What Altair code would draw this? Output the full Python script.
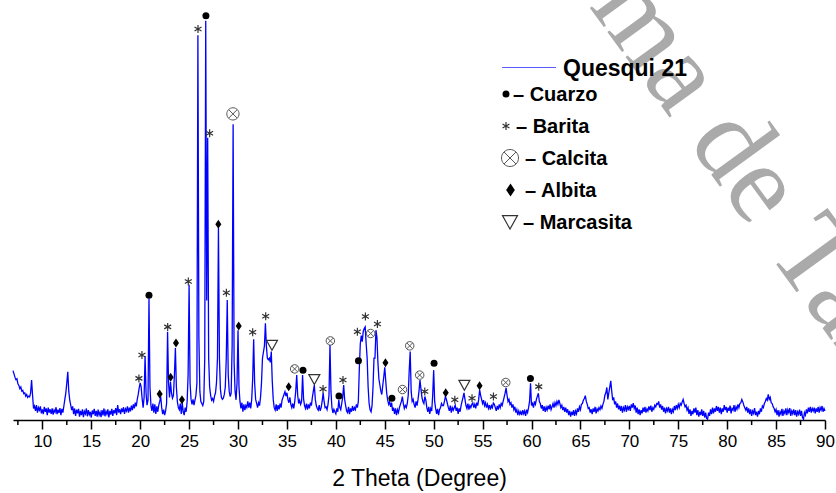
import altair as alt
import pandas as pd

# 2-theta grid of the diffractogram (degrees)
THETA_START = 7.0
THETA_STEP = 0.1

# Intensity (a.u.), one row per degree: values at d.0, d.1, ..., d.9
counts_07_19 = [
    120, 112, 104, 98, 100, 88, 84, 76, 80, 70,    # 7
    72, 64, 66, 58, 62, 55, 58, 56, 66, 97,        # 8
    60, 28, 34, 22, 36, 18, 30, 24, 33, 16,        # 9
    26, 14, 32, 20, 28, 12, 30, 18, 26, 15,        # 10
    28, 13, 24, 19, 31, 14, 25, 17, 29, 12,        # 11
    27, 18, 34, 50, 66, 90, 117, 70, 48, 36,       # 12
    24, 33, 14, 28, 10, 25, 16, 27, 8, 22,         # 13
    12, 26, 7, 21, 15, 28, 9, 24, 13, 20,          # 14
    6, 23, 14, 27, 10, 22, 8, 25, 12, 19,          # 15
    7, 24, 11, 28, 9, 21, 14, 26, 6, 22,           # 16
    13, 27, 10, 24, 16, 29, 12, 36, 18, 26,        # 17
    14, 28, 19, 31, 15, 27, 22, 33, 18, 30,        # 18
    21, 35, 24, 38, 28, 42, 33, 50, 62, 78,        # 19
]
counts_20_34 = [
    90, 80, 52, 30, 55, 155, 65, 36, 48, 295,      # 20
    80, 35, 22, 40, 18, 38, 15, 33, 20, 36,        # 21
    45, 57, 30, 14, 25, 12, 22, 40, 214, 90,       # 22
    55, 93, 65, 53, 60, 110, 175, 80, 45, 30,      # 23
    25, 40, 15, 41, 20, 12, 30, 20, 45, 110,       # 24
    328, 90, 50, 38, 50, 36, 48, 60, 90, 934,      # 25
    200, 70, 45, 40, 35, 45, 150, 969, 290, 685,   # 26
    150, 80, 60, 48, 52, 45, 58, 66, 90, 150,      # 27
    466, 150, 75, 55, 50, 53, 62, 80, 150, 291,    # 28
    110, 70, 57, 65, 180, 718, 140, 70, 49, 90,    # 29
    218, 80, 45, 28, 42, 20, 38, 24, 35, 30,       # 30
    45, 30, 42, 28, 50, 100, 196, 90, 50, 41,      # 31
    30, 42, 35, 55, 90, 150, 165, 180, 235, 180,   # 32
    150, 146, 150, 140, 166, 95, 50, 30, 24, 38,   # 33
    22, 36, 26, 40, 30, 48, 55, 62, 69, 58,        # 34
]
counts_35_49 = [
    66, 50, 42, 55, 38, 30, 40, 28, 45, 70,        # 35
    109, 60, 40, 48, 38, 45, 109, 52, 35, 28,      # 36
    40, 25, 38, 28, 42, 35, 55, 70, 85, 50,        # 37
    35, 28, 24, 36, 22, 30, 45, 66, 45, 30,        # 38
    32, 25, 38, 60, 182, 70, 30, 17, 26, 20,       # 39
    15, 28, 20, 49, 30, 25, 40, 55, 85, 50,        # 40
    35, 22, 18, 32, 14, 28, 20, 34, 22, 30,        # 41
    25, 38, 30, 45, 125, 185, 205, 190, 215, 222,  # 42
    226, 185, 150, 80, 40, 25, 20, 35, 80, 150,    # 43
    150, 218, 200, 140, 100, 85, 70, 62, 85, 105,  # 44
    128, 95, 65, 48, 38, 44, 32, 42, 22, 30,       # 45
    15, 28, 12, 25, 18, 30, 38, 45, 57, 40,        # 46
    28, 35, 30, 40, 60, 120, 166, 70, 45, 50,      # 47
    38, 30, 45, 35, 50, 70, 97, 75, 55, 45,        # 48
    40, 57, 48, 30, 20, 32, 15, 28, 22, 60,        # 49
]
counts_50_64 = [
    121, 45, 28, 15, 27, 12, 25, 30, 40, 35,       # 50
    35, 45, 57, 50, 40, 30, 22, 35, 18, 30,        # 51
    24, 30, 36, 22, 30, 15, 28, 20, 35, 45,        # 52
    55, 66, 50, 35, 28, 40, 25, 35, 30, 38,        # 53
    41, 30, 38, 28, 42, 35, 50, 73, 60, 50,        # 54
    40, 48, 35, 42, 30, 38, 28, 36, 25, 35,        # 55
    30, 41, 38, 30, 22, 34, 25, 38, 30, 40,        # 56
    35, 45, 55, 65, 78, 60, 45, 50, 38, 42,        # 57
    30, 38, 25, 32, 18, 25, 12, 22, 14, 20,        # 58
    12, 24, 15, 22, 10, 25, 18, 30, 45, 89,        # 59
    35, 40, 30, 45, 38, 50, 58, 65, 45, 40,        # 60
    28, 36, 22, 33, 20, 31, 24, 35, 26, 38,        # 61
    25, 32, 40, 30, 42, 35, 45, 38, 49, 40,        # 62
    30, 36, 24, 32, 20, 30, 18, 26, 12, 22,        # 63
    8, 20, 12, 24, 10, 22, 15, 28, 20, 32,         # 64
]
counts_65_90 = [
    25, 38, 40, 48, 52, 59, 45, 38, 28, 30,        # 65
    18, 26, 14, 28, 20, 32, 16, 27, 22, 30,        # 66
    25, 34, 28, 38, 45, 60, 66, 79, 50, 65,        # 67
    80, 95, 70, 48, 55, 38, 45, 30, 40, 26,        # 68
    35, 22, 34, 18, 30, 24, 36, 20, 32, 26,        # 69
    34, 22, 38, 30, 41, 28, 35, 18, 30, 14,        # 70
    26, 12, 24, 16, 30, 20, 32, 18, 27, 22,        # 71
    33, 24, 35, 20, 30, 26, 36, 32, 40, 38,        # 72
    45, 30, 38, 25, 34, 20, 30, 16, 28, 22,        # 73
    32, 18, 28, 14, 26, 20, 34, 24, 36, 28,        # 74
    38, 30, 40, 36, 44, 50, 40, 32, 36, 24,        # 75
    30, 15, 26, 10, 22, 14, 28, 18, 30, 12,        # 76
    24, 8, 20, 12, 26, 10, 22, 6, 18, 4,           # 77
    2, 18, 10, 26, 14, 30, 16, 28, 20, 34,         # 78
    22, 32, 18, 30, 14, 28, 20, 36, 24, 32,        # 79
    18, 30, 22, 35, 16, 28, 24, 36, 20, 32,        # 80
    26, 38, 30, 40, 42, 50, 44, 36, 30, 24,        # 81
    32, 18, 28, 14, 26, 10, 22, 16, 29, 12,        # 82
    20, 8, 22, 14, 28, 20, 34, 30, 40, 45,         # 83
    52, 48, 62, 50, 55, 42, 40, 32, 28, 20,        # 84
    26, 12, 24, 8, 20, 14, 27, 10, 22, 16,         # 85
    28, 12, 25, 18, 29, 10, 22, 15, 26, 12,        # 86
    24, 8, 20, 14, 25, 10, 22, 6, 2, 18,           # 87
    12, 26, 16, 30, 20, 32, 18, 28, 22, 30,        # 88
    16, 28, 20, 32, 18, 30, 24, 34, 20, 28,        # 89
    22,                                            # 90
]

# Phase identification: 2-theta of each label and the intensity level it sits at
cuarzo_theta = [20.90, 26.72, 36.64, 40.32, 42.31, 45.73, 50.04, 59.89]
cuarzo_level = [303, 981, 121, 58, 144, 53, 138, 101]

barita_theta = [19.87, 20.18, 22.81, 24.92, 25.91, 27.10, 28.81, 31.50, 32.83, 38.69,
                40.73, 42.20, 43.02, 44.25, 49.09, 52.16, 53.92, 56.11, 60.74]
barita_level = [101, 158, 226, 336, 949, 696, 309, 213, 252, 75,
                97, 214, 251, 233, 69, 49, 53, 57, 81]

calcita_theta = [29.48, 35.79, 39.44, 43.56, 46.81, 47.55, 48.57, 57.37]
calcita_level = [743, 124, 192, 210, 74, 180, 109, 91]

albita_theta = [21.99, 23.11, 23.66, 24.27, 27.99, 30.07, 35.18, 45.07, 51.23, 54.69]
albita_level = [63, 104, 187, 49, 475, 228, 81, 139, 66, 83]

marcasita_theta = [33.47, 37.80, 53.14]
marcasita_level = [182, 99, 85]

# axis ticks (degrees)
major_ticks = [10, 15, 20, 25, 30, 35, 40, 45, 50, 55, 60, 65, 70, 75, 80, 85, 90]
minor_ticks = [7.5, 12.5, 17.5, 22.5, 27.5, 32.5, 37.5, 42.5, 47.5, 52.5,
               57.5, 62.5, 67.5, 72.5, 77.5, 82.5, 87.5]

SAMPLE = "Quesqui 21"
PHASES = ["Cuarzo", "Barita", "Calcita", "Albita", "Marcasita"]
WATERMARK = "Autónoma de Tamaulipas"

# ---------------------------------------------------------------------------
counts = counts_07_19 + counts_20_34 + counts_35_49 + counts_50_64 + counts_65_90
theta = [round(THETA_START + THETA_STEP * i, 1) for i in range(len(counts))]
pattern = pd.DataFrame({"theta": theta, "counts": counts})

W, H = 812, 412
PAD = {"left": 13, "top": 8, "right": 11, "bottom": 73}

x_scale = alt.Scale(domain=[7, 90], nice=False, zero=False)
y_scale = alt.Scale(domain=[0, 1000], nice=False, zero=False)

x_axis = alt.Axis(
    values=major_ticks,
    title="2 Theta (Degree)",
    tickSize=9, tickWidth=1.5, tickColor="black",
    domainColor="black", domainWidth=1.5,
    labelFont="Liberation Sans", labelFontSize=17, labelColor="black",
    labelPadding=4, labelOverlap=False, labelFlush=False,
    titleFont="Liberation Sans", titleFontSize=23, titleFontWeight="normal",
    titleColor="black", titlePadding=18,
    grid=False,
)
x_enc = alt.X("theta:Q", scale=x_scale)

# symbol paths in the unit square
ASTERISK = "M0,-1L0,1M-0.87,-0.5L0.87,0.5M-0.87,0.5L0.87,-0.5"
OTIMES = ("M1,0A1,1,0,1,1,-1,0A1,1,0,1,1,1,0Z"
          "M-0.7,-0.7L0.7,0.7M-0.7,0.7L0.7,-0.7")
DIAMOND = "M0,-1L0.67,0L0,1L-0.67,0Z"
NABLA = "M-1,-0.85L1,-0.85L0,0.95Z"

STYLE = {
    "Cuarzo": dict(shape="circle", filled=True, color="black"),
    "Barita": dict(shape=ASTERISK, filled=False, color="#333333", strokeWidth=1.2),
    "Calcita": dict(shape=OTIMES, filled=False, color="#555555", strokeWidth=1),
    "Albita": dict(shape=DIAMOND, filled=True, color="black"),
    "Marcasita": dict(shape=NABLA, filled=False, color="#333333", strokeWidth=1.2),
}
PLOT_SIZE = {"Cuarzo": 49, "Barita": 64, "Calcita": 72, "Albita": 81, "Marcasita": 121}
LEGEND_SIZE = {"Cuarzo": 49, "Barita": 64, "Calcita": 289, "Albita": 169, "Marcasita": 225}

# watermark (under everything)
watermark = alt.Chart(pd.DataFrame({"t": [WATERMARK]})).mark_text(
    angle=54, font="Liberation Serif", fontSize=114, color="#aaaaaa",
    align="left", baseline="alphabetic",
).encode(x=alt.value(374.6), y=alt.value(-278.6), text="t:N")

line = alt.Chart(pattern).mark_line(color="#0000ff", strokeWidth=1.3).encode(
    x=alt.X("theta:Q", scale=x_scale, axis=x_axis),
    y=alt.Y("counts:Q", scale=y_scale, axis=None),
)

# shorter ticks between the labelled ones
minor = alt.Chart(pd.DataFrame({"theta": minor_ticks})).mark_rule(
    color="black", strokeWidth=1.5
).encode(x=x_enc, y=alt.value(H), y2=alt.value(H + 5))


def phase_layer(name, th, lv):
    df = pd.DataFrame({"theta": th, "level": lv})
    size = PLOT_SIZE[name]
    size_enc = alt.value(size)
    if name == "Calcita":
        size_enc = alt.condition(alt.datum.level > 500, alt.value(150), alt.value(size))
    return alt.Chart(df).mark_point(opacity=1, **STYLE[name]).encode(
        x=x_enc,
        y=alt.Y("level:Q", scale=y_scale, axis=None),
        size=size_enc,
    )


phase_layers = [
    phase_layer("Cuarzo", cuarzo_theta, cuarzo_level),
    phase_layer("Barita", barita_theta, barita_level),
    phase_layer("Calcita", calcita_theta, calcita_level),
    phase_layer("Albita", albita_theta, albita_level),
    phase_layer("Marcasita", marcasita_theta, marcasita_level),
]

# legend drawn in pixel space of the plot area
one = pd.DataFrame({"t": [SAMPLE]})
legend = [
    alt.Chart(one).mark_rule(color="#5a5aff", strokeWidth=1).encode(
        x=alt.value(489), x2=alt.value(543), y=alt.value(59.5)),
    alt.Chart(one).mark_text(
        font="Liberation Sans", fontSize=23, fontWeight="bold", color="black",
        align="left", baseline="alphabetic",
    ).encode(x=alt.value(550), y=alt.value(68), text="t:N"),
]
sym_x = {"Cuarzo": 493, "Barita": 493, "Calcita": 497, "Albita": 497.5, "Marcasita": 497}
txt_x = {"Cuarzo": 500, "Barita": 503, "Calcita": 512, "Albita": 512, "Marcasita": 510}
for i, name in enumerate(PHASES):
    base_y = 93 + 32 * i
    row = pd.DataFrame({"t": ["\u2013 " + name]})
    legend.append(
        alt.Chart(row).mark_point(opacity=1, size=LEGEND_SIZE[name], **STYLE[name]).encode(
            x=alt.value(sym_x[name]), y=alt.value(base_y - 7))
    )
    legend.append(
        alt.Chart(row).mark_text(
            font="Liberation Sans", fontSize=20, fontWeight="bold", color="black",
            align="left", baseline="alphabetic",
        ).encode(x=alt.value(txt_x[name]), y=alt.value(base_y), text="t:N")
    )

chart = alt.layer(watermark, line, minor, *phase_layers, *legend).properties(
    width=W, height=H,
    autosize=alt.AutoSizeParams(type="none"),
    padding=PAD,
    background="white",
).configure_view(stroke=None)

chart.save("out.html", embed_options={"renderer": "svg", "actions": False})
